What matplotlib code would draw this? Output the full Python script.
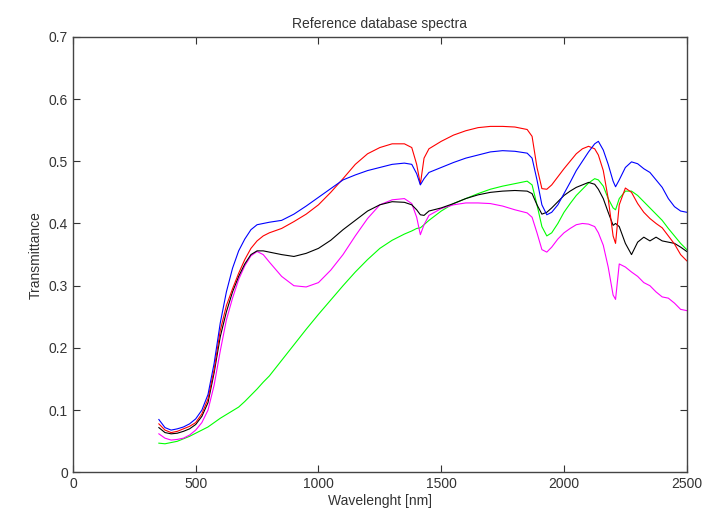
import matplotlib
matplotlib.use('Agg')
from matplotlib import pyplot as plt

# wavelength grid [nm], shared by all spectra
wl = [350, 375, 400, 425, 450, 475, 500, 525, 550, 575, 600, 625, 650, 675,
      700, 725, 750, 775, 800, 850, 900, 950, 1000, 1050, 1100, 1150, 1200,
      1250, 1300, 1350, 1380, 1400, 1415, 1430, 1450, 1500, 1550, 1600, 1650,
      1700, 1750, 1800, 1850, 1870, 1890, 1910, 1930, 1950, 1975, 2000, 2025,
      2050, 2075, 2100, 2125, 2140, 2160, 2180, 2200, 2210, 2225, 2250, 2275,
      2300, 2325, 2350, 2375, 2400, 2425, 2450, 2475, 2500]

blue = [0.085, 0.072, 0.068, 0.070, 0.073, 0.078, 0.086, 0.100, 0.125, 0.175,
        0.240, 0.290, 0.328, 0.356, 0.375, 0.390, 0.398, 0.400, 0.402, 0.405,
        0.415, 0.428, 0.442, 0.456, 0.470, 0.478, 0.485, 0.490, 0.495, 0.497,
        0.495, 0.480, 0.462, 0.472, 0.482, 0.490, 0.498, 0.505, 0.510, 0.515,
        0.517, 0.516, 0.513, 0.505, 0.470, 0.430, 0.414, 0.418, 0.430, 0.448,
        0.466, 0.485, 0.500, 0.515, 0.528, 0.532, 0.518, 0.495, 0.468, 0.459,
        0.470, 0.490, 0.499, 0.496, 0.488, 0.482, 0.470, 0.458, 0.440, 0.427,
        0.420, 0.418]

red = [0.078, 0.068, 0.064, 0.066, 0.070, 0.074, 0.080, 0.094, 0.118, 0.165,
       0.228, 0.268, 0.295, 0.320, 0.342, 0.360, 0.372, 0.380, 0.385, 0.392,
       0.403, 0.415, 0.430, 0.450, 0.472, 0.495, 0.512, 0.522, 0.528, 0.528,
       0.522, 0.495, 0.463, 0.505, 0.520, 0.532, 0.542, 0.549, 0.554, 0.556,
       0.556, 0.555, 0.551, 0.540, 0.490, 0.456, 0.455, 0.462, 0.475, 0.488,
       0.500, 0.512, 0.520, 0.524, 0.520, 0.510, 0.485, 0.440, 0.380, 0.368,
       0.430, 0.457, 0.450, 0.432, 0.418, 0.408, 0.400, 0.393, 0.380, 0.367,
       0.350, 0.340]

black = [0.072, 0.064, 0.062, 0.063, 0.066, 0.070, 0.077, 0.090, 0.112, 0.160,
         0.218, 0.258, 0.290, 0.315, 0.335, 0.350, 0.356, 0.356, 0.354, 0.350,
         0.347, 0.352, 0.360, 0.373, 0.390, 0.405, 0.420, 0.430, 0.435, 0.434,
         0.430, 0.422, 0.414, 0.413, 0.420, 0.425, 0.432, 0.440, 0.446, 0.450,
         0.452, 0.453, 0.452, 0.448, 0.430, 0.415, 0.418, 0.425, 0.435, 0.445,
         0.452, 0.458, 0.462, 0.466, 0.463, 0.455, 0.440, 0.418, 0.397, 0.400,
         0.395, 0.368, 0.350, 0.370, 0.378, 0.372, 0.378, 0.372, 0.370, 0.368,
         0.362, 0.355]

magenta = [0.062, 0.055, 0.052, 0.053, 0.055, 0.060, 0.068, 0.080, 0.100, 0.140,
           0.195, 0.245, 0.280, 0.310, 0.332, 0.348, 0.355, 0.350, 0.338, 0.315,
           0.300, 0.298, 0.305, 0.325, 0.350, 0.380, 0.408, 0.430, 0.438, 0.440,
           0.432, 0.410, 0.382, 0.398, 0.413, 0.424, 0.430, 0.433, 0.433, 0.432,
           0.428, 0.422, 0.417, 0.410, 0.385, 0.358, 0.354, 0.362, 0.375, 0.385,
           0.392, 0.398, 0.400, 0.399, 0.395, 0.385, 0.365, 0.330, 0.285, 0.278,
           0.335, 0.330, 0.322, 0.315, 0.305, 0.300, 0.290, 0.282, 0.280, 0.272,
           0.262, 0.260]

green = [0.047, 0.046, 0.048, 0.050, 0.054, 0.058, 0.063, 0.068, 0.073, 0.080,
         0.087, 0.093, 0.099, 0.105, 0.114, 0.124, 0.134, 0.145, 0.155, 0.180,
         0.205, 0.230, 0.254, 0.277, 0.300, 0.322, 0.342, 0.360, 0.373, 0.383,
         0.388, 0.392, 0.393, 0.398, 0.405, 0.420, 0.432, 0.440, 0.448, 0.455,
         0.460, 0.464, 0.468, 0.462, 0.430, 0.395, 0.380, 0.385, 0.400, 0.418,
         0.432, 0.445, 0.455, 0.465, 0.472, 0.470, 0.460, 0.440, 0.425, 0.422,
         0.440, 0.452, 0.452, 0.445, 0.435, 0.425, 0.415, 0.405, 0.392, 0.380,
         0.368, 0.358]

xticks = [0, 500, 1000, 1500, 2000, 2500]
yticks = [0, 0.1, 0.2, 0.3, 0.4, 0.5, 0.6, 0.7]

plt.rcParams['font.family'] = ['Liberation Sans', 'DejaVu Sans']

fig = plt.figure(figsize=(7.08, 5.18), dpi=100)
ax = fig.add_axes([0.103, 0.088, 0.867, 0.841])

ax.plot(wl, green, color='#00ff00', lw=0.8)
ax.plot(wl, magenta, color='#ff00ff', lw=0.8)
ax.plot(wl, black, color='black', lw=0.8)
ax.plot(wl, red, color='red', lw=0.8)
ax.plot(wl, blue, color='blue', lw=0.8)

ax.set_xlim(0, 2500)
ax.set_ylim(0, 0.7)
ax.set_xticks(xticks)
ax.set_yticks(yticks)
ax.set_yticklabels(['0', '0.1', '0.2', '0.3', '0.4', '0.5', '0.6', '0.7'])
ax.tick_params(direction='in', top=True, right=True, length=5, width=0.8,
               labelsize=10, colors='#333333')
for s in ax.spines.values():
    s.set_linewidth(1.0)
    s.set_color('#444444')

ax.set_title('Reference database spectra', fontsize=10, color='#333333')
ax.set_xlabel('Wavelenght [nm]', fontsize=10, color='#333333', labelpad=2)
ax.set_ylabel('Transmittance', fontsize=10, color='#333333')

fig.savefig('out.png', dpi=100)
